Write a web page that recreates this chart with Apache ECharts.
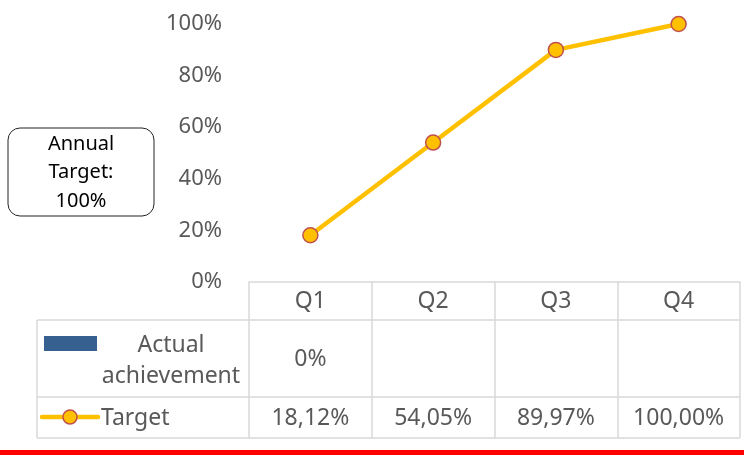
<!DOCTYPE html>
<html>
<head>
<meta charset="utf-8">
<script src="https://cdn.jsdelivr.net/npm/echarts@6/dist/echarts.min.js"></script>
<style>
  html, body { margin: 0; padding: 0; background: #fff; }
  #main { width: 744px; height: 455px; }
</style>
</head>
<body>
<div id="main"></div>
<script>
// data
var quarters = ['Q1', 'Q2', 'Q3', 'Q4'];
var actualValues = [0, null, null, null];
var targetValues = [18.12, 54.05, 89.97, 100];
var yTicks = [0, 20, 40, 60, 80, 100];
var boxLines = ['Annual', 'Target:', '100%'];

var font = '"Noto Sans", "Open Sans", sans-serif';
var grey = '#595959';
var border = '#d9d9d9';

var chart = echarts.init(document.getElementById('main'));

function fmtTarget(v) { return v.toFixed(2).replace('.', ',') + '%'; }

var option = {
  animation: false,
  grid: { left: 249, right: 4, top: 24, bottom: 173 },
  xAxis: {
    type: 'category',
    data: quarters,
    boundaryGap: true,
    axisLine: { lineStyle: { color: border, width: 1.5 } },
    axisTick: { show: true, length: 156, lineStyle: { color: border, width: 1.5 } },
    axisLabel: { color: grey, fontSize: 23, fontFamily: font, margin: 8 }
  },
  yAxis: {
    type: 'value',
    min: yTicks[0],
    max: yTicks[yTicks.length - 1],
    interval: 20,
    splitLine: { show: false },
    axisLine: { show: false },
    axisTick: { show: false },
    axisLabel: { color: grey, fontSize: 22, fontFamily: font, margin: 27, formatter: '{value}%', padding: [4, 0, 0, 0] }
  },
  series: [
    {
      name: 'Actual achievement',
      type: 'bar',
      data: actualValues.map(function (v) { return v === null ? '-' : v; }),
      itemStyle: { color: '#35608f' }
    },
    {
      name: 'Target',
      type: 'line',
      data: targetValues,
      symbol: 'circle',
      symbolSize: 15,
      lineStyle: { color: '#ffc000', width: 4.5 },
      itemStyle: { color: '#ffc000', borderColor: '#c0504d', borderWidth: 1.5 }
    }
  ]
};
chart.setOption(option);

// data table + extras
var g = [];
function hline(x1, x2, y) {
  g.push({ type: 'line', shape: { x1: x1, y1: y, x2: x2, y2: y }, style: { stroke: border, lineWidth: 1.5 } });
}
hline(37, 740, 320);
hline(37, 740, 397);
hline(37, 740, 438);
g.push({ type: 'line', shape: { x1: 37, y1: 320, x2: 37, y2: 438 }, style: { stroke: border, lineWidth: 1.5 } });

var cellFont = '23px ' + font;
var rowActualY = 359, rowTargetY = 418;
quarters.forEach(function (q, i) {
  var x = chart.convertToPixel({ xAxisIndex: 0 }, q);
  if (actualValues[i] !== null) {
    g.push({ type: 'text', x: x, y: rowActualY, style: { text: actualValues[i] + '%', fill: grey, font: cellFont, align: 'center', verticalAlign: 'middle' } });
  }
  g.push({ type: 'text', x: x, y: rowTargetY, style: { text: fmtTarget(targetValues[i]), fill: grey, font: cellFont, align: 'center', verticalAlign: 'middle' } });
});

// legend keys
g.push({ type: 'rect', shape: { x: 44, y: 336, width: 53, height: 15 }, style: { fill: '#35608f' } });
g.push({ type: 'text', x: 171, y: 345, style: { text: 'Actual', fill: grey, font: cellFont, align: 'center', verticalAlign: 'middle' } });
g.push({ type: 'text', x: 171, y: 376, style: { text: 'achievement', fill: grey, font: cellFont, align: 'center', verticalAlign: 'middle' } });
g.push({ type: 'line', shape: { x1: 42, y1: 417, x2: 98, y2: 417 }, style: { stroke: '#ffc000', lineWidth: 4.5, lineCap: 'round' } });
g.push({ type: 'circle', shape: { cx: 70, cy: 417, r: 7 }, style: { fill: '#ffc000', stroke: '#c0504d', lineWidth: 1.5 } });
g.push({ type: 'text', x: 101, y: 418, style: { text: 'Target', fill: grey, font: cellFont, align: 'left', verticalAlign: 'middle' } });

// annual target box
g.push({ type: 'rect', shape: { x: 8, y: 128, width: 146, height: 88, r: 12 }, style: { fill: '#fff', stroke: '#222', lineWidth: 1 } });
boxLines.forEach(function (t, i) {
  g.push({ type: 'text', x: 81, y: 144 + i * 28.5, style: { text: t, fill: '#000', font: '20px ' + font, align: 'center', verticalAlign: 'middle' } });
});

// red rule at the bottom
g.push({ type: 'rect', shape: { x: 0, y: 450, width: 744, height: 5 }, style: { fill: '#ff0000' } });

chart.setOption({ graphic: g });
</script>
</body>
</html>
